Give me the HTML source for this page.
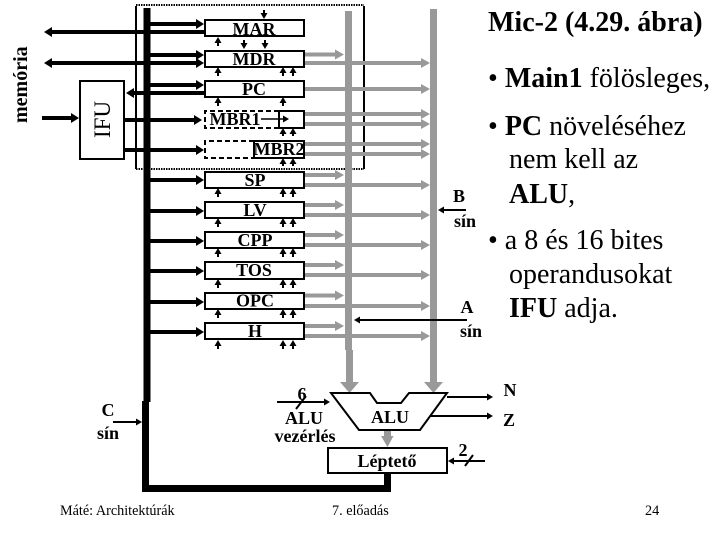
<!DOCTYPE html>
<html><head><meta charset="utf-8"><style>
html,body{margin:0;padding:0;background:#fff}
svg{display:block}
text{font-family:"Liberation Serif",serif;fill:#000}
.b{font-weight:bold;font-size:18px;text-anchor:middle}
.t{font-size:28px}
.f{font-size:14.200px}
</style></head><body>
<svg width="720" height="540" viewBox="0 0 720 540">
<defs>
<marker id="k" markerUnits="userSpaceOnUse" markerWidth="10" markerHeight="12" refX="2" refY="6" orient="auto-start-reverse"><path d="M0 1L8 6L0 11Z" fill="#000"/></marker>
<marker id="g" markerUnits="userSpaceOnUse" markerWidth="12" markerHeight="12" refX="2" refY="6" orient="auto"><path d="M0 1L9 6L0 11Z" fill="#999"/></marker>
<marker id="s" markerUnits="userSpaceOnUse" markerWidth="8" markerHeight="8" refX="1" refY="4" orient="auto"><path d="M0 0.500L6 4L0 7.500Z" fill="#000"/></marker>
</defs>

<!-- dotted frame -->
<path d="M136 5H364M136 169H364" stroke="#000" stroke-width="2" stroke-dasharray="1.500 1" fill="none"/>
<path d="M136 6V169M364 6V169" stroke="#000" stroke-width="2" fill="none"/>

<!-- gray buses -->
<path d="M345 11H352V350H353V382H359L349.500 393L340 382H346V350H345Z" fill="#999"/>
<path d="M430 9H437V382H443L433.500 393L424 382H430Z" fill="#999"/>
<path d="M384 430H391V436H393.500L387.500 447L381 436H384Z" fill="#999"/>

<g stroke="#999" stroke-width="4" fill="none">
<path d="M305 54.500H337" marker-end="url(#g)"/>
<path d="M305 175H337" marker-end="url(#g)"/><path d="M305 205H337" marker-end="url(#g)"/>
<path d="M305 235H337" marker-end="url(#g)"/><path d="M305 265H337" marker-end="url(#g)"/>
<path d="M305 295.500H337" marker-end="url(#g)"/><path d="M305 326H337" marker-end="url(#g)"/>
<path d="M305 63H423" marker-end="url(#g)"/><path d="M305 89H423" marker-end="url(#g)"/>
<path d="M305 114H423" marker-end="url(#g)"/><path d="M305 124H423" marker-end="url(#g)"/>
<path d="M305 144H423" marker-end="url(#g)"/><path d="M305 154H423" marker-end="url(#g)"/>
<path d="M305 185H423" marker-end="url(#g)"/><path d="M305 215H423" marker-end="url(#g)"/>
<path d="M305 245H423" marker-end="url(#g)"/><path d="M305 275H423" marker-end="url(#g)"/>
<path d="M305 306H423" marker-end="url(#g)"/><path d="M305 336H423" marker-end="url(#g)"/>
</g>

<!-- black bus -->
<path d="M147 8V402" stroke="#000" stroke-width="7" fill="none"/>
<path d="M145.500 401V488.500H387.500V473" stroke="#000" stroke-width="7" fill="none"/>

<!-- black thick arrows -->
<g stroke="#000" stroke-width="4" fill="none">
<path d="M150 24H198" marker-end="url(#k)"/>
<path d="M204 32H50" marker-end="url(#k)"/>
<path d="M150 55H198" marker-end="url(#k)"/>
<path d="M50 63H198" marker-start="url(#k)" marker-end="url(#k)"/>
<path d="M150 85H198" marker-end="url(#k)"/>
<path d="M204 93H132" marker-end="url(#k)"/>
<path d="M42 118H73" marker-end="url(#k)"/>
<path d="M124 120H196" marker-end="url(#k)"/>
<path d="M124 150H198" marker-end="url(#k)"/>
<path d="M150 180H198" marker-end="url(#k)"/>
<path d="M150 211H198" marker-end="url(#k)"/>
<path d="M150 241H198" marker-end="url(#k)"/>
<path d="M150 271H198" marker-end="url(#k)"/>
<path d="M150 302H198" marker-end="url(#k)"/>
<path d="M150 332H198" marker-end="url(#k)"/>
</g>

<!-- IFU -->
<rect x="80" y="81" width="44" height="78" fill="#fff" stroke="#000" stroke-width="2"/>

<!-- registers -->
<g fill="#fff" stroke="#000" stroke-width="2">
<rect x="205" y="20" width="99" height="16"/>
<rect x="205" y="51" width="99" height="16"/>
<rect x="205" y="81" width="99" height="16"/>
<rect x="205" y="172" width="99" height="16"/>
<rect x="205" y="202" width="99" height="16"/>
<rect x="205" y="232" width="99" height="16"/>
<rect x="205" y="262" width="99" height="17"/>
<rect x="205" y="293" width="99" height="16"/>
<rect x="205" y="323" width="99" height="16"/>
<rect x="279" y="111" width="25" height="17"/>
<rect x="254" y="141" width="50" height="17"/>
</g>
<g fill="none" stroke="#000" stroke-width="2" stroke-dasharray="5 3">
<path d="M279 111H205V128H279"/>
<path d="M254 141H205V158H254"/>
</g>
<path d="M261 119H284" stroke="#000" stroke-width="1.500" marker-end="url(#s)"/>

<!-- small control arrows -->
<g stroke="#000" stroke-width="2" fill="none">
<path d="M264 10V14" marker-end="url(#s)"/>
<path d="M218 46V42" marker-end="url(#s)"/>
<path d="M244 40V44" marker-end="url(#s)"/>
<path d="M265 40V44" marker-end="url(#s)"/>
<path d="M218 76V72" marker-end="url(#s)"/><path d="M283 76V72" marker-end="url(#s)"/><path d="M293 76V72" marker-end="url(#s)"/>
<path d="M218 106V102" marker-end="url(#s)"/><path d="M283 106V102" marker-end="url(#s)"/>
<path d="M283 136V133" marker-end="url(#s)"/><path d="M293 136V133" marker-end="url(#s)"/>
<path d="M283 166V163" marker-end="url(#s)"/><path d="M293 166V163" marker-end="url(#s)"/>
<path d="M218 197V193" marker-end="url(#s)"/><path d="M283 197V193" marker-end="url(#s)"/><path d="M293 197V193" marker-end="url(#s)"/>
<path d="M218 227V223" marker-end="url(#s)"/><path d="M283 227V223" marker-end="url(#s)"/><path d="M293 227V223" marker-end="url(#s)"/>
<path d="M218 257V253" marker-end="url(#s)"/><path d="M283 257V253" marker-end="url(#s)"/><path d="M293 257V253" marker-end="url(#s)"/>
<path d="M218 288V284" marker-end="url(#s)"/><path d="M283 288V284" marker-end="url(#s)"/><path d="M293 288V284" marker-end="url(#s)"/>
<path d="M218 318V314" marker-end="url(#s)"/><path d="M283 318V314" marker-end="url(#s)"/><path d="M293 318V314" marker-end="url(#s)"/>
<path d="M218 349V345" marker-end="url(#s)"/><path d="M283 349V345" marker-end="url(#s)"/><path d="M293 349V345" marker-end="url(#s)"/>
</g>

<!-- bus side arrows -->
<g stroke="#000" stroke-width="2" fill="none">
<path d="M466 210H443" marker-end="url(#s)"/>
<path d="M467 320H359" marker-end="url(#s)"/>
<path d="M113 422H137" marker-end="url(#s)"/>
<path d="M277 402H325" marker-end="url(#s)"/>
<path d="M296 409L306 396"/>
<path d="M447 397H488" marker-end="url(#s)"/>
<path d="M430 416H488" marker-end="url(#s)"/>
<path d="M485 461H453" marker-end="url(#s)"/>
<path d="M465 466L473 455"/>
</g>

<!-- ALU & shifter -->
<path d="M331 393H370L377 403H401L409 393H447L420 430H359Z" fill="#fff" stroke="#000" stroke-width="2"/>
<rect x="328" y="448" width="119" height="25" fill="#fff" stroke="#000" stroke-width="2"/>

<!-- register labels -->
<text class="b" x="254" y="35">MAR</text>
<text class="b" x="254" y="65">MDR</text>
<text class="b" x="254" y="95">PC</text>
<text class="b" x="235" y="125">MBR1</text>
<text class="b" x="279" y="155">MBR2</text>
<text class="b" x="255" y="186">SP</text>
<text class="b" x="255" y="216">LV</text>
<text class="b" x="255" y="246">CPP</text>
<text class="b" x="254" y="276">TOS</text>
<text class="b" x="255" y="306.500">OPC</text>
<text class="b" x="255" y="337">H</text>

<text font-size="20" font-weight="bold" transform="translate(27 123) rotate(-90)">memória</text>
<text font-size="23" transform="translate(110 138) rotate(-90)">IFU</text>

<text class="b" x="459" y="202">B</text>
<text class="b" x="465" y="227">sín</text>
<text class="b" x="467" y="313">A</text>
<text class="b" x="471" y="337">sín</text>
<text class="b" x="108" y="416">C</text>
<text class="b" x="108" y="439">sín</text>
<text class="b" x="302" y="400">6</text>
<text class="b" x="304" y="424">ALU</text>
<text class="b" x="305" y="442">vezérlés</text>
<text class="b" x="390" y="423">ALU</text>
<text class="b" x="387" y="467">Léptető</text>
<text class="b" x="510" y="396">N</text>
<text class="b" x="509" y="426">Z</text>
<text class="b" x="463" y="456">2</text>

<!-- right text -->
<text class="t" x="488" y="31" font-weight="bold">Mic-2 (4.29. ábra)</text>
<text class="t" x="488" y="87">• <tspan font-weight="bold">Main1</tspan> fölösleges,</text>
<text class="t" x="488" y="135">• <tspan font-weight="bold">PC</tspan> növeléséhez</text>
<text class="t" x="509" y="168">nem kell az</text>
<text class="t" x="509" y="203"><tspan font-weight="bold">ALU</tspan>,</text>
<text class="t" x="488" y="249">• a 8 és 16 bites</text>
<text class="t" x="509" y="283">operandusokat</text>
<text class="t" x="509" y="317"><tspan font-weight="bold">IFU</tspan> adja.</text>

<!-- footer -->
<text class="f" x="60" y="515">Máté: Architektúrák</text>
<text class="f" x="332" y="515">7. előadás</text>
<text class="f" x="645" y="515">24</text>
</svg>
</body></html>
